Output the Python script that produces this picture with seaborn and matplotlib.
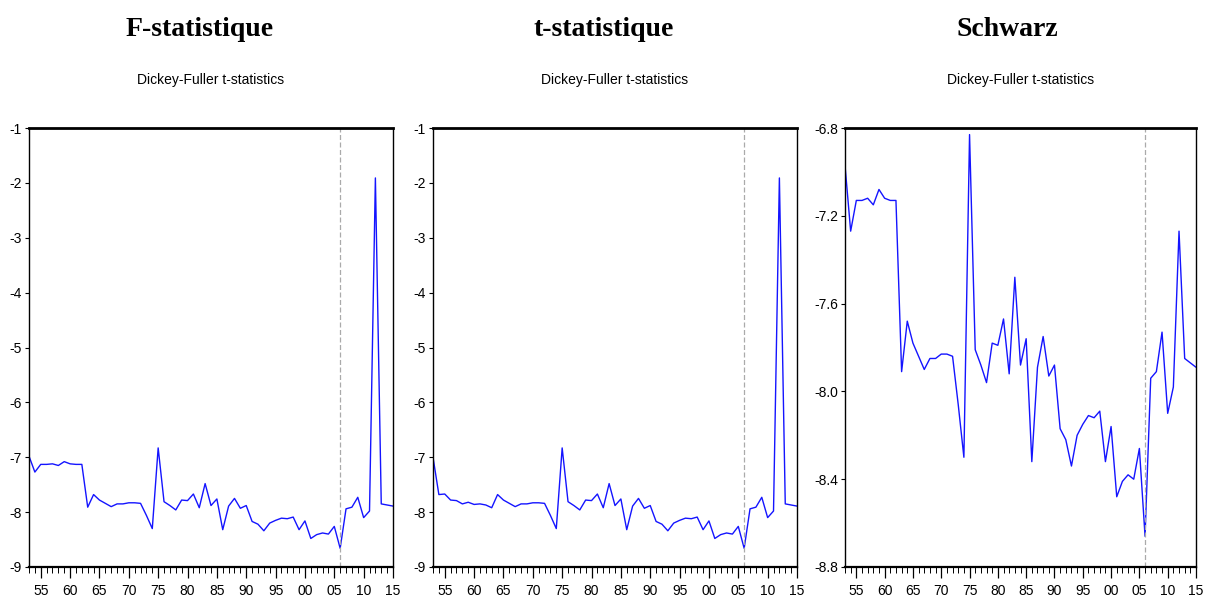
import pandas as pd
import matplotlib
matplotlib.use('Agg')
import matplotlib.pyplot as plt
import seaborn as sns

# Data (years 1953-2015)
years = list(range(1953, 2016))

f_stat = [-6.98, -7.27, -7.13, -7.13, -7.12, -7.15, -7.08, -7.12, -7.13, -7.13,
          -7.91, -7.68, -7.78, -7.84, -7.90, -7.85, -7.85, -7.83, -7.83, -7.84,
          -8.06, -8.30, -6.83, -7.81, -7.88, -7.96, -7.78, -7.79, -7.67, -7.92,
          -7.48, -7.88, -7.76, -8.32, -7.89, -7.75, -7.93, -7.88, -8.17, -8.22,
          -8.34, -8.20, -8.15, -8.11, -8.12, -8.09, -8.32, -8.16, -8.48, -8.41,
          -8.38, -8.40, -8.26, -8.66, -7.94, -7.91, -7.73, -8.10, -7.98, -1.91,
          -7.85, -7.87, -7.89]

t_stat = [-7.00, -7.68, -7.67, -7.78, -7.79, -7.85, -7.82, -7.86, -7.85, -7.87,
          -7.92, -7.68, -7.78, -7.84, -7.90, -7.85, -7.85, -7.83, -7.83, -7.84,
          -8.06, -8.30, -6.83, -7.81, -7.88, -7.96, -7.78, -7.79, -7.67, -7.92,
          -7.48, -7.88, -7.76, -8.32, -7.89, -7.75, -7.93, -7.88, -8.17, -8.22,
          -8.34, -8.20, -8.15, -8.11, -8.12, -8.09, -8.32, -8.16, -8.48, -8.41,
          -8.38, -8.40, -8.26, -8.66, -7.94, -7.91, -7.73, -8.10, -7.98, -1.91,
          -7.85, -7.87, -7.89]

schwarz = [-6.97, -7.27, -7.13, -7.13, -7.12, -7.15, -7.08, -7.12, -7.13, -7.13,
           -7.91, -7.68, -7.78, -7.84, -7.90, -7.85, -7.85, -7.83, -7.83, -7.84,
           -8.06, -8.30, -6.83, -7.81, -7.88, -7.96, -7.78, -7.79, -7.67, -7.92,
           -7.48, -7.88, -7.76, -8.32, -7.89, -7.75, -7.93, -7.88, -8.17, -8.22,
           -8.34, -8.20, -8.15, -8.11, -8.12, -8.09, -8.32, -8.16, -8.48, -8.41,
           -8.38, -8.40, -8.26, -8.66, -7.94, -7.91, -7.73, -8.10, -7.98, -7.27,
           -7.85, -7.87, -7.89]

titles = ['F-statistique', 't-statistique', 'Schwarz']
subtitle = 'Dickey-Fuller t-statistics'
break_year = 2006

df = pd.DataFrame({'year': years, 'F': f_stat, 't': t_stat, 'S': schwarz})

sns.set_style('white')
plt.rcParams['font.family'] = ['Liberation Sans Narrow', 'Liberation Sans', 'DejaVu Sans']
plt.rcParams['text.color'] = 'black'
plt.rcParams['xtick.color'] = 'black'
plt.rcParams['ytick.color'] = 'black'

fig = plt.figure(figsize=(12.05, 5.99), dpi=100)

# axes boxes in pixels: left, right
boxes = [(29, 393), (433, 797), (845, 1196)]
top_px, bot_px = 128, 567
cols = ['F', 't', 'S']
ylims = [(-9, -1), (-9, -1), (-8.8, -6.8)]
yticks = [list(range(-9, 0)), list(range(-9, 0)), [-8.8, -8.4, -8.0, -7.6, -7.2, -6.8]]
title_x = [200, 604, 1007]

for i in range(3):
    l, r = boxes[i]
    ax = fig.add_axes([l / 1205, 1 - bot_px / 599, (r - l) / 1205, (bot_px - top_px) / 599])
    sns.lineplot(data=df, x='year', y=cols[i], ax=ax, color='#1414ff', lw=1)
    ax.axvline(break_year, color='#aaaaaa', lw=0.9, ls=(0, (4, 2)))
    ax.set_xlim(1953, 2015)
    ax.set_ylim(*ylims[i])
    ax.set_xlabel('')
    ax.set_ylabel('')

    major = list(range(1955, 2016, 5))
    ax.set_xticks(major)
    ax.set_xticklabels(['%02d' % (y % 100) for y in major])
    ax.set_xticks(years, minor=True)
    ax.set_yticks(yticks[i])
    if i < 2:
        ax.set_yticklabels(['%d' % v for v in yticks[i]])
    else:
        ax.set_yticklabels(['%.1f' % v for v in yticks[i]])

    ax.tick_params(axis='x', which='major', direction='out', length=8, width=0.9,
                   labelsize=10, pad=4, bottom=True)
    ax.tick_params(axis='x', which='minor', direction='out', length=4, width=0.7,
                   bottom=True)
    ax.tick_params(axis='y', which='major', direction='out', length=3, width=0.8,
                   labelsize=10, pad=2, left=True)

    for side in ['left', 'right']:
        ax.spines[side].set_linewidth(1.0)
        ax.spines[side].set_color('black')
    ax.spines['top'].set_linewidth(2.0)
    ax.spines['top'].set_color('black')
    ax.spines['bottom'].set_linewidth(1.6)
    ax.spines['bottom'].set_color('black')

    fig.text(title_x[i] / 1205, 1 - 29 / 599, titles[i], ha='center', va='center',
             fontsize=20, fontweight='bold', family=['Liberation Serif', 'DejaVu Serif'])
    fig.text((l + r) / 2 / 1205, 1 - 80 / 599, subtitle, ha='center', va='center',
             fontsize=10)

fig.savefig('out.png', dpi=100)
